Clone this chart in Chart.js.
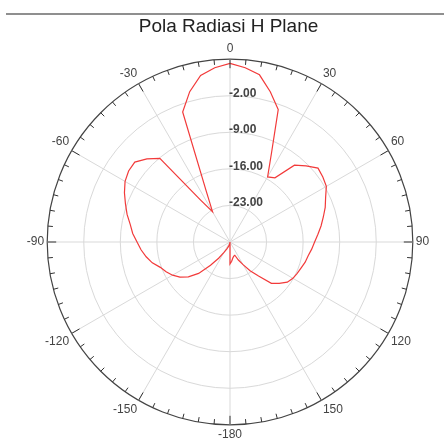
<!DOCTYPE html>
<html>
<head>
<meta charset="utf-8">
<script src="https://cdn.jsdelivr.net/npm/chart.js@4"></script>
<style>
  body { margin: 0; background: #fff; }
  canvas { display: block; }
</style>
</head>
<body>
<canvas id="grafico" width="444" height="446"></canvas>
<script>
// angulos (grados), 0 arriba y sentido horario
const angulos = [
  0, 5, 10, 15, 20, 25, 30, 35, 40, 45, 50, 55, 60, 65, 70, 75, 80, 85,
  90, 95, 100, 105, 110, 115, 120, 125, 130, 135, 140, 145, 150, 155, 160, 165, 170, 175,
  -180, -175, -170, -165, -160, -155, -150, -145, -140, -135, -130, -125, -120, -115, -110, -105, -100, -95,
  -90, -85, -80, -75, -70, -65, -60, -55, -50, -45, -40, -35, -30, -25, -20, -15, -10, -5
];

// nivel medido (dB)
const nivelDb = [
  4.2, 3.5, 2.5, -0.2, -3.0, -11.2, -15.6, -15.0, -10.8, -9.4, -8.0, -8.3, -8.7, -9.8, -10.6, -11.5, -12.3, -13.1,
  -13.8, -14.3, -14.8, -15.1, -15.5, -15.8, -16.1, -16.6, -17.7, -18.8, -21.5, -23.3, -25.0, -26.2, -27.3, -27.2, -26.9, -26.3,
  -25.8, -30.0, -29.6, -29.4, -29.0, -28.5, -27.7, -26.2, -24.2, -21.5, -19.6, -18.3, -17.3, -16.5, -15.8, -14.6, -13.7, -12.9,
  -12.2, -11.3, -10.6, -9.6, -8.7, -7.7, -6.8, -6.3, -6.2, -7.5, -9.1, -20.2, -23.3, -19.2, -3.5, -0.2, 2.4, 3.5
];

// escala radial
const escalaMin = -30;
const escalaMax = 5;
const escalaPaso = 7;
const etiquetasRadiales = [-23, -16, -9, -2];

// linea gris arriba, marcas del circulo exterior y etiquetas radiales
const decoracion = {
  id: "decoracion",
  beforeDraw(chart) {
    const ctx = chart.ctx;
    ctx.save();
    ctx.fillStyle = "#fff";
    ctx.fillRect(0, 0, chart.width, chart.height);
    ctx.fillStyle = "#8f8f8f";
    ctx.fillRect(6, 13, chart.width - 6, 2);
    ctx.restore();
  },
  afterDraw(chart) {
    const ctx = chart.ctx;
    const r = chart.scales.r;
    ctx.save();
    ctx.strokeStyle = "#333";
    ctx.lineWidth = 1;
    angulos.forEach((a, i) => {
      const largo = a % 30 === 0 ? 9 : 5;
      const p1 = r.getPointPosition(i, r.drawingArea);
      const p2 = r.getPointPosition(i, r.drawingArea - largo);
      ctx.beginPath();
      ctx.moveTo(p1.x, p1.y);
      ctx.lineTo(p2.x, p2.y);
      ctx.stroke();
    });
    ctx.font = "bold 12px 'Liberation Sans', Arial";
    ctx.fillStyle = "#444";
    ctx.textAlign = "left";
    ctx.textBaseline = "middle";
    etiquetasRadiales.forEach(v => {
      const p = r.getPointPositionForValue(0, v);
      ctx.fillText(v.toFixed(2), r.xCenter - 1, p.y - 2.5);
    });
    ctx.restore();
  }
};

const ctx = document.getElementById("grafico").getContext("2d");

new Chart(ctx, {
  type: "radar",
  data: {
    labels: angulos,
    datasets: [{
      label: "H Plane",
      data: nivelDb,
      borderColor: "#f23a3a",
      borderWidth: 1.2,
      backgroundColor: "transparent",
      fill: false,
      pointRadius: 0,
      tension: 0
    }]
  },
  options: {
    responsive: false,
    animation: false,
    layout: { padding: { top: 8, bottom: 2, left: 13, right: 0 } },
    plugins: {
      legend: { display: false },
      tooltip: { enabled: false },
      title: {
        display: true,
        text: "Pola Radiasi H Plane",
        color: "#222",
        font: { family: "'Liberation Sans', Arial", size: 19, weight: "normal" },
        padding: { top: 7, bottom: 4 }
      }
    },
    scales: {
      r: {
        min: escalaMin,
        max: escalaMax,
        beginAtZero: false,
        ticks: { stepSize: escalaPaso, display: false },
        grid: {
          circular: true,
          color: c => (c.tick && c.tick.value === escalaMax ? "#444" : "#d9d9d9"),
          lineWidth: c => (c.tick && c.tick.value === escalaMax ? 1.2 : 1)
        },
        angleLines: {
          color: c => (angulos[c.index] % 30 === 0 ? "#d9d9d9" : "transparent")
        },
        pointLabels: {
          padding: 3,
          color: "#444",
          font: { family: "'Liberation Sans', Arial", size: 12 },
          callback: (label) => (label % 30 === 0 ? String(label) : "")
        }
      }
    }
  },
  plugins: [decoracion]
});
</script>
</body>
</html>
